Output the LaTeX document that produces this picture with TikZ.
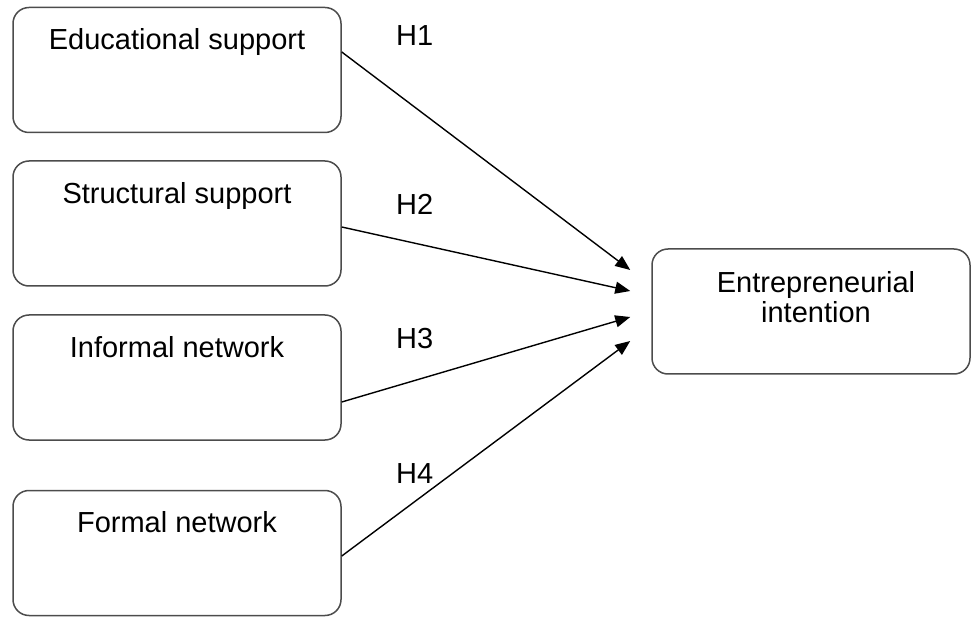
\documentclass[tikz,border=0pt]{standalone}
\usepackage{fontspec}
\setmainfont{Liberation Sans}
\usepackage{tikz}
\usetikzlibrary{arrows.meta,positioning}

\begin{document}
\begin{tikzpicture}[
    x=1pt, y=-1pt,
    factor/.style={
      draw=black!70, line width=1.5pt, rounded corners=16pt,
      minimum width=328pt, minimum height=125pt, inner sep=0pt,
    },
    caption/.style={
      font=\fontsize{29}{30}\selectfont, inner sep=0pt,
      anchor=north, yshift=-22pt, align=center,
    },
    hyp/.style={
      line width=1.4pt, -{Triangle[length=15pt,width=12pt]},
    },
  ]
  \def\gap{21pt}
  \useasboundingbox (0, 0) rectangle (972, 617);

  \node[factor, label={[caption]north:Educational support}] (edu) at (177, 70) {};
  \node[factor, label={[caption]north:Structural support}] (struct) at (177, 223.5) {};
  \node[factor, label={[caption]north:Informal network}] (inform) at (177, 377.5) {};
  \node[factor, label={[caption]north:Formal network}] (formal) at (177, 553) {};
  \node[
    factor,
    minimum width=318pt,
    label={[caption, xshift=5pt, yshift=-1pt]north:Entrepreneurial\\intention},
  ] (intent) at (811, 311.5) {};

  \node[font=\fontsize{29}{30}\selectfont, inner sep=0pt, anchor=west] (h1) at (396, 36) {H1};
  \node[font=\fontsize{29}{30}\selectfont, inner sep=0pt, anchor=west] (h2) at (396, 204) {H2};
  \node[font=\fontsize{29}{30}\selectfont, inner sep=0pt, anchor=west] (h3) at (396, 339) {H3};
  \node[font=\fontsize{29}{30}\selectfont, inner sep=0pt, anchor=west] (h4) at (396, 474) {H4};

  \draw[hyp]
    ([yshift=18pt]edu.east) --
    ([xshift=-\gap, yshift=41.5pt]intent.west)
  ;
  \draw[hyp]
    ([yshift=-3.5pt]struct.east) --
    ([xshift=-\gap, yshift=20.5pt]intent.west)
  ;
  \draw[hyp]
    ([yshift=-24.5pt]inform.east) --
    ([xshift=-\gap, yshift=-5.5pt]intent.west)
  ;
  \draw[hyp]
    ([yshift=-3pt]formal.east) --
    ([xshift=-\gap, yshift=-29.5pt]intent.west)
  ;

\end{tikzpicture}
\end{document}
